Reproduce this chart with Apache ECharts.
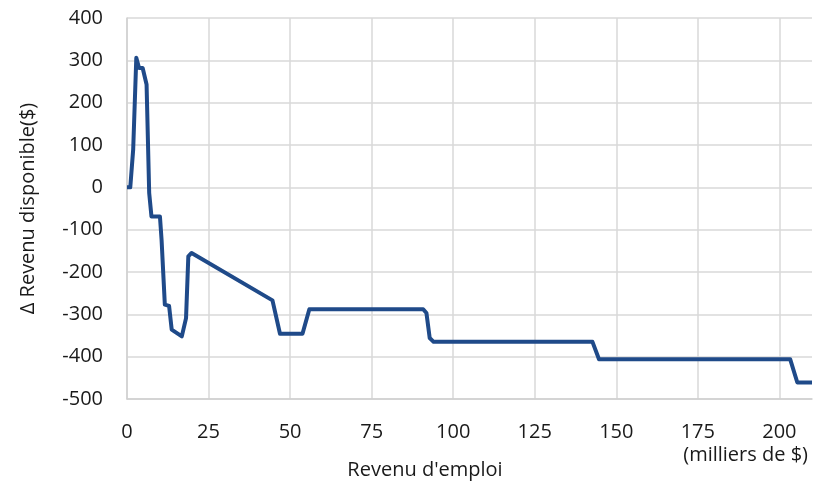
<!DOCTYPE html>
<html><head><meta charset="utf-8">
<script src="https://cdn.jsdelivr.net/npm/echarts@6/dist/echarts.min.js"></script>
<style>html,body{margin:0;padding:0;background:#fff}#c{width:816px;height:483px}</style>
</head><body><div id="c"></div>
<script>
const incomeK = [0, 1, 1.9, 2.85, 3.7, 4.8, 6.0, 6.8, 7.5, 10.1, 10.6, 11.6, 12.9, 13.7, 16.8, 18.1, 18.8, 19.8, 44.6, 46.9, 53.8, 55.9, 90.8, 91.8, 92.8, 94.0, 142.7, 144.7, 203.3, 205.5, 210];
const deltaIncome = [0, 0, 90, 306, 282, 282, 243, -13, -69, -69, -124, -277, -280, -336, -352, -309, -163, -155, -267, -346, -346, -288, -288, -297, -356, -365, -365, -406, -406, -461, -461];
const yTicks = [-500, -400, -300, -200, -100, 0, 100, 200, 300, 400];
const xTicks = [0, 25, 50, 75, 100, 125, 150, 175, 200];

const chart = echarts.init(document.getElementById('c'));
const font = '"Open Sans", "Noto Sans", sans-serif';
const txt = '#1a1a1a';
chart.setOption({
  animation: false,
  textStyle: {fontFamily: font},
  grid: {left: 127, right: 4, top: 18, bottom: 84, containLabel: false},
  xAxis: {
    type: 'value', min: 0, max: 210, interval: 25,
    axisLine: {show: true, onZero: false, lineStyle: {color: '#d0d0d0', width: 1.5}},
    axisTick: {show: false},
    splitLine: {show: true, showMaxLine: false, lineStyle: {color: '#d9d9d9', width: 1.5}},
    axisLabel: {color: txt, fontSize: 20, fontFamily: font, margin: 23, showMaxLabel: false,
      formatter: v => xTicks.includes(v) ? String(v) : ''}
  },
  yAxis: {
    type: 'value', min: yTicks[0], max: yTicks[yTicks.length-1], interval: 100,
    name: 'Δ Revenu disponible($)', nameLocation: 'middle', nameGap: 89,
    nameTextStyle: {color: txt, fontSize: 20, fontFamily: font},
    axisLine: {show: true, lineStyle: {color: '#d0d0d0', width: 1.5}},
    axisTick: {show: false},
    splitLine: {show: true, lineStyle: {color: '#d9d9d9', width: 1.5}},
    axisLabel: {color: txt, fontSize: 20, fontFamily: font, margin: 24}
  },
  graphic: [
    {type: 'text', x: 425, y: 470, style: {text: "Revenu d'emploi", fill: txt, font: '20px ' + font, textAlign: 'center', textVerticalAlign: 'middle'}},
    {type: 'text', x: 808, y: 455, style: {text: '(milliers de $)', fill: txt, font: '20px ' + font, textAlign: 'right', textVerticalAlign: 'middle'}}
  ],
  series: [{
    type: 'line', showSymbol: false, symbol: 'none',
    data: incomeK.map((x, i) => [x, deltaIncome[i]]),
    lineStyle: {color: '#1f4a89', width: 4, join: 'round'}
  }]
});
</script></body></html>
